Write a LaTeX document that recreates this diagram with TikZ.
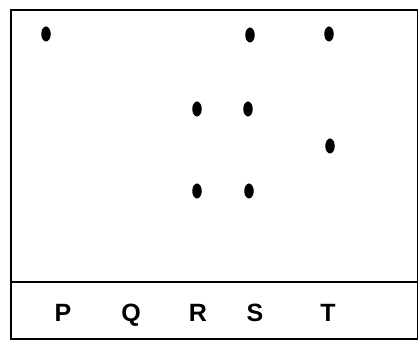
\documentclass[tikz,border=0pt]{standalone}
\usepackage{fontspec}
\setmainfont{Liberation Sans}
\usetikzlibrary{shapes.geometric}
\begin{document}
\begin{tikzpicture}[x=1pt,y=-1pt,
  dotmark/.style={fill=black,draw=none,shape=ellipse,minimum width=9.5pt,minimum height=15pt,inner sep=0pt},
  lbl/.style={font=\bfseries\fontsize{25}{25}\selectfont,inner sep=0pt,anchor=base}]
\useasboundingbox (0,0) rectangle (420,344);
\draw[line width=1.6pt] (11,10) rectangle (417.5,339);
\draw[line width=1.4pt] (11,282) -- (417.5,282);
\node[dotmark] (p1) at (46,34) {};
\node[dotmark] (s1) at (250,35) {};
\node[dotmark] (t1) at (329,34) {};
\node[dotmark] (r2) at (197,109) {};
\node[dotmark] (s2) at (248,109) {};
\node[dotmark] (t3) at (330,146) {};
\node[dotmark] (r4) at (197,191) {};
\node[dotmark] (s4) at (249,191) {};
\node[lbl] (P) at (63,322) {P};
\node[lbl] (Q) at (131,322) {Q};
\node[lbl] (R) at (198,322) {R};
\node[lbl] (S) at (255,322) {S};
\node[lbl] (T) at (328,322) {T};
\end{tikzpicture}
\end{document}
